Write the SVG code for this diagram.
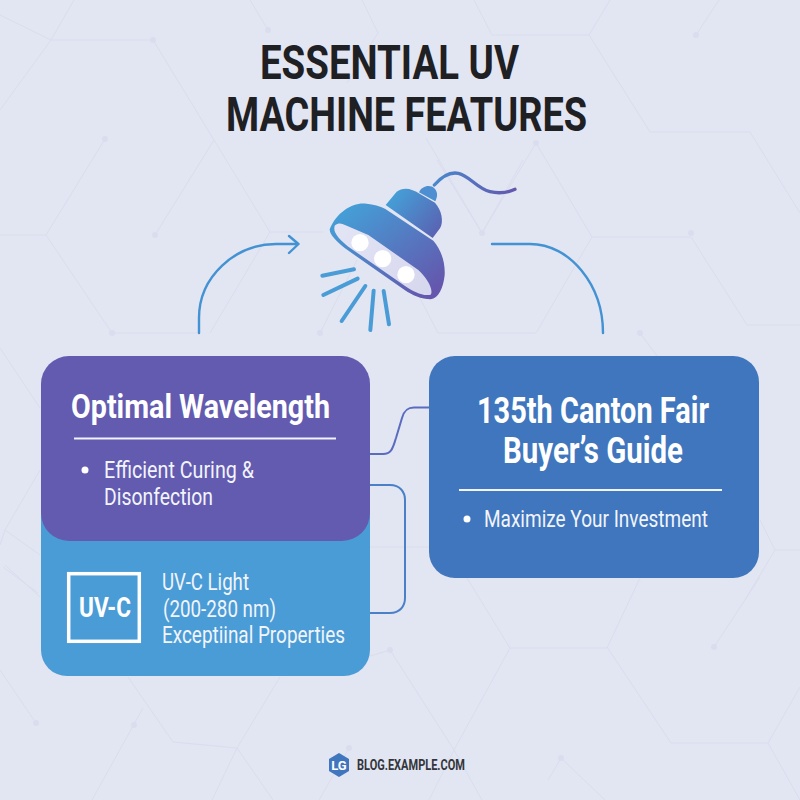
<svg xmlns="http://www.w3.org/2000/svg" width="800" height="800" viewBox="0 0 800 800">
<defs>
<linearGradient id="lampGrad" gradientUnits="userSpaceOnUse" x1="500" y1="130" x2="720" y2="400"><stop offset="0" stop-color="#459dd6"/><stop offset="1" stop-color="#6457ad"/></linearGradient>
<linearGradient id="domeGrad" gradientUnits="userSpaceOnUse" x1="620" y1="100" x2="750" y2="210"><stop offset="0" stop-color="#459dd6"/><stop offset="1" stop-color="#5a63b3"/></linearGradient>
<linearGradient id="cordGrad" gradientUnits="userSpaceOnUse" x1="733" y1="60" x2="975" y2="90"><stop offset="0" stop-color="#4a88cc"/><stop offset="1" stop-color="#6457ad"/></linearGradient>
<linearGradient id="openGrad" gradientUnits="userSpaceOnUse" x1="440" y1="200" x2="720" y2="400"><stop offset="0" stop-color="#e3e4f4"/><stop offset="1" stop-color="#d6d7ee"/></linearGradient>
</defs>
<style>
text{font-family:"Roboto","Liberation Sans",sans-serif}
.title{font-size:49px;font-weight:700;fill:#1f2023}
.head{font-size:36px;font-weight:700;fill:#fff}
.head2{font-size:34px;font-weight:700;fill:#fff}
.body{font-size:24px;fill:#f2f4fb}
.conn{fill:none;stroke:#4392d3;stroke-width:2.400;stroke-linecap:round;stroke-linejoin:round}
.link{fill:none;stroke-width:2}
.hex{fill:none;stroke:#d9ddee;stroke-width:1}
.dot{fill:#d9ddee}
.ray{stroke:#4a9cd6;stroke-width:12;stroke-linecap:round}
</style>
<rect width="800" height="800" fill="#e2e5f2"/>
<g id="background">
<path class="hex" d="M0 15 L51 40 L74 0 M51 40 L0 110 M51 40 H153 L214 140 L155 235 M214 140 L270 232 H323 M105 139 L46 235 H0 M46 235 L112 333 H199 M250 0 L268 30 M362 0 L378 33 L347 83 M474 0 L492 35 H589 L610 0 M589 35 L650 132 H750 L800 213 M719 0 L696 35 M426 138 L482 233 L536 143 L592 237 H691 L747 325 H800 M592 237 L536 333 H438 L407 273 M210 333 L270 232 M320 333 L357 260 M437 160 L482 233 L523 160 M640 333 L660 360"/>
<path class="hex" d="M0 348 L40 408 M40 470 L5 530 L40 555 M5 530 L0 545 M5 565 L40 597 M760 520 L775 550 H800 M775 550 L745 600 M3 567 L38 593 M0 670 L36 723 M128 677 L173 742 L237 748 L280 677 M237 748 L273 800 M237 748 L212 800 M143 708 L92 800 M370 656 L390 650 L454 750 L510 648 L467 578 M510 648 H607 L640 578 M607 647 L671 743 H768 L800 687 M768 743 L800 800 M714 647 L760 577 M454 750 L429 800 M454 750 L482 800 M349 748 L319 800 M561 758 L605 800 M561 758 L548 780 M370 547 H429"/>
<g class="dot"><circle cx="153" cy="40" r="3"/><circle cx="105" cy="139" r="3"/><circle cx="155" cy="235" r="3"/><circle cx="268" cy="30" r="3"/><circle cx="482" cy="233" r="3"/><circle cx="536" cy="143" r="3"/><circle cx="691" cy="233" r="3"/><circle cx="696" cy="35" r="3"/><circle cx="320" cy="333" r="3"/><circle cx="640" cy="333" r="3"/><circle cx="112" cy="333" r="3"/><circle cx="390" cy="650" r="3"/><circle cx="36" cy="723" r="3"/><circle cx="134" cy="725" r="3"/><circle cx="714" cy="647" r="3"/><circle cx="349" cy="748" r="3"/><circle cx="561" cy="758" r="3"/></g>
</g>
<g id="connectors">
<path class="conn" d="M199 333 V318 C199 277 235 244 276 244 H298 M289 236 L298.500 244 L289 253"/>
<path class="conn" d="M492 244 H530 C570 244 603 285 603 333"/>
<path class="link" stroke="#5a6cc0" d="M370 454 H383 C392 454 393 447 396 438 L402 418 C404 411 407 407.500 414 407.500 H429"/>
<path class="link" stroke="#4a80c8" d="M370 485 H390 C400 485 405 492 405 500 V598 C405 606 400 613 390 613 H370"/>
</g>
<g id="title">
<text class="title" x="260" y="79" textLength="259" lengthAdjust="spacingAndGlyphs">ESSENTIAL UV</text>
<text class="title" x="226" y="131" textLength="361" lengthAdjust="spacingAndGlyphs">MACHINE FEATURES</text>
</g>
<g id="lamp" transform="translate(190 160) scale(.33333)">
<path d="M733 75 C755 50 780 35 805 40 C840 48 860 85 900 95 C930 102 955 97 975 88" fill="none" stroke="url(#cordGrad)" stroke-width="10" stroke-linecap="round"/>
<path d="M687 97 C695 78 720 72 733 85 C745 97 742 112 736 124 Z" fill="#4d8fd0"/>
<path d="M587 135 L620 95 C640 80 665 85 690 102 L735 128 C755 150 762 185 750 205 L728 234 Z" fill="url(#domeGrad)"/>
<path d="M419 208 C440 155 490 125 530 131 C550 133 570 138 585 146 L730 242 C755 270 766 310 764 345 C760 385 745 415 722 418 C695 418 665 405 645 391 L465 265 C440 245 419 225 419 208 Z" fill="url(#lampGrad)"/>
<path d="M435 196 C445 188 455 190 465 195 L535 225 L685 330 C710 352 732 390 722 404 C700 410 670 395 645 378 L475 260 C450 240 425 215 435 196 Z" fill="url(#openGrad)"/>
<circle cx="510" cy="248" r="26" fill="#fff"/>
<circle cx="578" cy="296" r="26" fill="#fff"/>
<circle cx="648" cy="344" r="26" fill="#fff"/>
<path class="ray" d="M397 347 L492 328 M400 405 L503 356 M455 483 L526 378 M541 510 L551 392 M597 493 L581 393"/>
</g>
<g id="node-uvc">
<path d="M41 500 H370 V650 A26 26 0 0 1 344 676 H67 A26 26 0 0 1 41 650 Z" fill="#4a9cd6"/>
<rect x="68.700" y="573.700" width="70.600" height="67.600" fill="none" stroke="#fff" stroke-width="3.500"/>
<text x="79" y="617" font-size="28" font-weight="700" fill="#fff" textLength="52" lengthAdjust="spacingAndGlyphs">UV-C</text>
<text class="body" x="162" y="590" textLength="87" lengthAdjust="spacingAndGlyphs">UV-C Light</text>
<text class="body" x="163" y="617" textLength="113" lengthAdjust="spacingAndGlyphs">(200-280 nm)</text>
<text class="body" x="162" y="643" textLength="183" lengthAdjust="spacingAndGlyphs">Exceptiinal Properties</text>
</g>
<g id="node-wavelength">
<rect x="41" y="356" width="329" height="185" rx="28" fill="#635bb0"/>
<text class="head2" x="71" y="418" textLength="259" lengthAdjust="spacingAndGlyphs">Optimal Wavelength</text>
<path d="M74 438.500 H336" stroke="#f2f4fb" stroke-width="2"/>
<circle cx="85" cy="470" r="3.500" fill="#fff"/>
<text class="body" x="104" y="478" textLength="150" lengthAdjust="spacingAndGlyphs">Efficient Curing &amp;</text>
<text class="body" x="104" y="505" textLength="109" lengthAdjust="spacingAndGlyphs">Disonfection</text>
</g>
<g id="node-guide">
<rect x="429" y="356" width="330" height="222" rx="26" fill="#3f76bd"/>
<text class="head" x="477" y="423" textLength="232" lengthAdjust="spacingAndGlyphs">135th Canton Fair</text>
<text class="head" x="503" y="463" textLength="180" lengthAdjust="spacingAndGlyphs">Buyer’s Guide</text>
<path d="M459 490 H722" stroke="#f2f4fb" stroke-width="2"/>
<circle cx="467" cy="519" r="3.500" fill="#fff"/>
<text class="body" x="484" y="527" textLength="224" lengthAdjust="spacingAndGlyphs">Maximize Your Investment</text>
</g>
<g id="footer">
<path d="M339 753 L349 759 V771 L339 777 L329 771 V759 Z" fill="#3f76bd"/>
<text x="339" y="770" text-anchor="middle" font-size="13" font-weight="700" fill="#fff">LG</text>
<text x="357" y="770" font-size="15.500" font-weight="700" fill="#33353a" textLength="108" lengthAdjust="spacingAndGlyphs">BLOG.EXAMPLE.COM</text>
</g>
</svg>
